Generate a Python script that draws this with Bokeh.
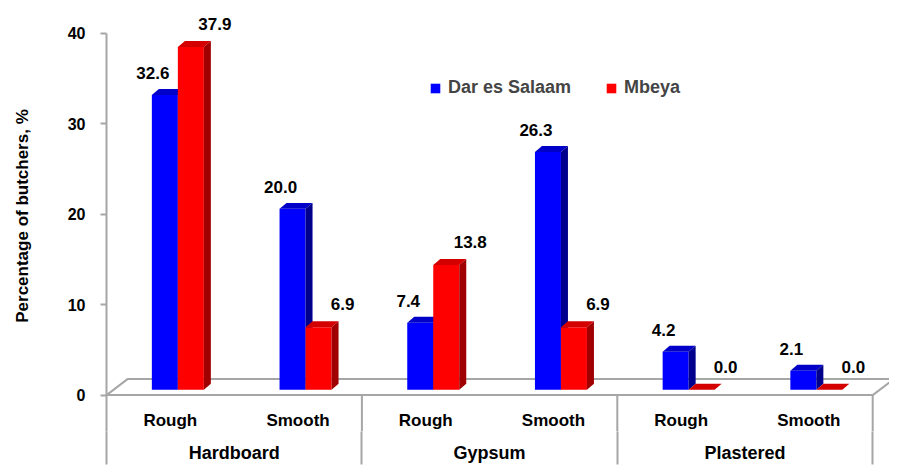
from bokeh.plotting import figure
from bokeh.models import Range1d, FixedTicker, Legend, LegendItem, CustomJSTickFormatter
from bokeh.core.properties import value
from bokeh.embed import file_html
from bokeh.resources import INLINE

# ---- data ----
materials = ["Hardboard", "Gypsum", "Plastered"]
surfaces = ["Rough", "Smooth", "Rough", "Smooth", "Rough", "Smooth"]
dar_es_salaam = [32.6, 20.0, 7.4, 26.3, 4.2, 2.1]
mbeya = [37.9, 6.9, 13.8, 6.9, 0.0, 0.0]
y_ticks = [0, 10, 20, 30, 40]
series_names = ["Dar es Salaam", "Mbeya"]
y_title = "Percentage of butchers, %"

# ---- layout constants (pixels) ----
W, H = 889, 465
LEFT = 106
BOTTOM = 33
FRAME_W = W - LEFT
FRAME_H = H - BOTTOM
SLOT_PX = 127.7
Y_PX = 9.0625          # pixels per percentage point
ZERO_Y = 395.5         # canvas y of value 0
FONT = "Liberation Sans"
GRAY = "#a6a6a6"

x0 = -0.5
x1 = x0 + FRAME_W / SLOT_PX
y1 = ZERO_Y / Y_PX
y0 = -(FRAME_H - ZERO_Y) / Y_PX

def px_x(px):
    return px / SLOT_PX

def px_y(px):
    return px / Y_PX

BAR_W = px_x(26)
PAIR_SHIFT = px_x(7.5)
DEPTH_X = px_x(7)
DEPTH_Y = px_y(6)
BASE = px_y(5.4)
FLOOR_DX = px_x(21)
FLOOR_DY = px_y(16)

p = figure(width=W, height=H, output_backend="svg", toolbar_location=None,
           x_range=Range1d(x0, x1), y_range=Range1d(y0, y1),
           min_border_left=LEFT, min_border_right=0, min_border_top=0,
           min_border_bottom=BOTTOM, outline_line_color=None)
p.xgrid.visible = False
p.ygrid.visible = False
p.background_fill_color = "white"
p.border_fill_color = "white"

n = len(surfaces)
group_centers = [2 * i + 0.5 for i in range(len(materials))]
seps = [2 * i + 1.5 for i in range(len(materials))]

# y axis
ax = p.yaxis[0]
ax.ticker = FixedTicker(ticks=y_ticks)
ax.bounds = (y0, max(y_ticks))
ax.axis_line_color = GRAY
ax.axis_line_width = 2
ax.major_tick_line_color = GRAY
ax.major_tick_line_width = 2
ax.major_tick_out = 6
ax.major_tick_in = 0
ax.minor_tick_line_color = None
ax.major_label_standoff = 15
ax.major_label_text_font = FONT
ax.major_label_text_font_style = "bold"
ax.major_label_text_font_size = "16px"
ax.major_label_text_color = "black"
ax.axis_label = y_title
ax.axis_label_text_font = FONT
ax.axis_label_text_font_style = "bold"
ax.axis_label_text_font_size = "17px"
ax.axis_label_text_color = "black"
ax.axis_label_standoff = 33

# bottom axis: material group labels; minor ticks are the group separators
xa = p.xaxis[0]
xa.ticker = FixedTicker(ticks=group_centers, minor_ticks=[-0.5] + seps)
xa.formatter = CustomJSTickFormatter(args=dict(names=materials),
                                     code="return names[Math.round((tick - 0.5) / 2)]")
xa.axis_line_color = None
xa.major_tick_line_color = None
xa.major_tick_out = 0
xa.major_tick_in = 0
xa.minor_tick_line_color = GRAY
xa.minor_tick_line_width = 2
xa.minor_tick_out = BOTTOM
xa.minor_tick_in = 0
xa.major_label_standoff = -22
xa.major_label_text_font = FONT
xa.major_label_text_font_style = "bold"
xa.major_label_text_font_size = "18px"
xa.major_label_text_color = "black"

# floor
fl = -0.5
fr = n - 0.5
p.patch([fl, fr, fr + FLOOR_DX, fl + FLOOR_DX], [0, 0, FLOOR_DY, FLOOR_DY],
        fill_color="white", line_color=GRAY, line_width=2)

# separators below floor (inside plot area)
p.segment(x0=seps, y0=[0] * len(seps), x1=seps, y1=[y0] * len(seps),
          line_color=GRAY, line_width=2)

# bars
centers = list(range(n))
def draw_series(vals, left_off, front, top, side):
    lefts = [c + PAIR_SHIFT + left_off for c in centers]
    rights = [l + BAR_W for l in lefts]
    tops = [v + BASE for v in vals]
    r = p.quad(left=lefts, right=rights, bottom=[BASE] * n, top=tops,
               fill_color=front, line_color=None)
    top_xs = [[l, rr, rr + DEPTH_X, l + DEPTH_X] for l, rr in zip(lefts, rights)]
    top_ys = [[t, t, t + DEPTH_Y, t + DEPTH_Y] for t in tops]
    p.patches(top_xs, top_ys, fill_color=top, line_color=None)
    side_xs = [[rr, rr + DEPTH_X, rr + DEPTH_X, rr] for rr in rights]
    side_ys = [[BASE, BASE + DEPTH_Y, t + DEPTH_Y, t] for t in tops]
    p.patches(side_xs, side_ys, fill_color=side, line_color=None)
    return r, lefts, rights, tops

rb, bl, br, bt = draw_series(dar_es_salaam, -BAR_W, "#0000ff", "#0000c8", "#00008c")
rr_, rl, rrt, rt = draw_series(mbeya, 0.0, "#ff0000", "#d40000", "#a00000")

# value labels
lab_style = dict(text_font=value(FONT), text_font_style="bold", text_font_size="17px",
                 text_color="black", text_align="center", text_baseline="middle")
p.text(x=[(a + b) / 2 for a, b in zip(bl, br)], y=bt,
       text=["%.1f" % v for v in dar_es_salaam], x_offset=-12, y_offset=-22, **lab_style)
p.text(x=[(a + b) / 2 for a, b in zip(rl, rrt)], y=rt,
       text=["%.1f" % v for v in mbeya], x_offset=24, y_offset=-23, **lab_style)

# surface labels
cat_style = dict(text_font=value(FONT), text_font_style="bold", text_font_size="17px",
                 text_color="black", text_align="center", text_baseline="middle")
p.text(x=centers, y=[px_y(-25.5)] * n, text=surfaces, **cat_style)

# legend
legend = Legend(items=[LegendItem(label=series_names[0], renderers=[rb]),
                       LegendItem(label=series_names[1], renderers=[rr_])],
                orientation="horizontal", location=(323, FRAME_H - 99),
                glyph_width=12, glyph_height=12, label_standoff=7, spacing=34,
                padding=0, margin=0, border_line_color=None,
                background_fill_alpha=0, label_text_font=FONT,
                label_text_font_style="bold", label_text_font_size="18px",
                label_height=20)
p.add_layout(legend)

open("out.html", "w").write(file_html(p, INLINE))
